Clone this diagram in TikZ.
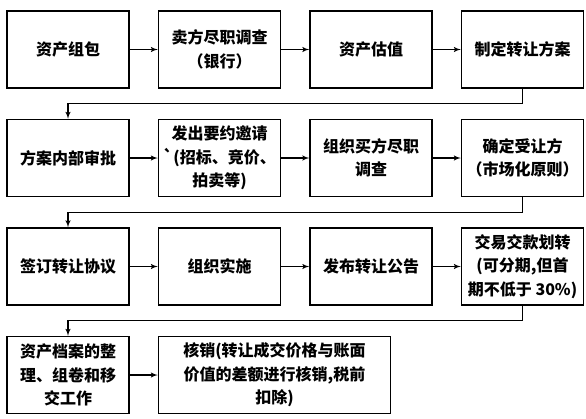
\documentclass[tikz,border=0pt]{standalone}
\usepackage{fontspec}
\newfontfamily\cjk{Noto Sans CJK SC}
\usepackage{tikz}
\usetikzlibrary{positioning,arrows}
\tikzset{
  basic/.style = {draw, line width=1.5pt, inner sep=0pt, align=center,
                  font=\cjk\bfseries\fontsize{16}{23.5}\selectfont},
  stage/.style = {basic, minimum width=122pt, minimum height=77pt},
  wide/.style  = {basic, minimum width=232pt, minimum height=77pt},
  post/.style  = {->, >=latex', line width=1.4pt}
}
\begin{document}
\begin{tikzpicture}[x=1pt,y=-1pt,node distance=28pt and 30pt]
  \useasboundingbox (0,0) rectangle (586,418);
  % row 1
  \node[stage] (pack) at (68,49.5) {资产组包};
  \node[stage, right=28pt of pack] (sellcheck) {卖方尽职调查\\（银行）};
  \node[stage, right=28pt of sellcheck] (value) {资产估值};
  \node[stage, right=28pt of value] (plan) {制定转让方案};
  % row 2
  \node[stage, below=30pt of pack] (approve) {方案内部审批};
  \node[stage, right=28pt of approve] (offer) {发出要约邀请\\`(招标、竞价、\\拍卖等)};
  \node[stage, right=28pt of offer] (buycheck) {组织买方尽职\\调查};
  \node[stage, right=28pt of buycheck] (buyer) {确定受让方\\（市场化原则）};
  % row 3
  \node[stage, below=30pt of approve] (sign) {签订转让协议};
  \node[stage, right=28pt of sign] (run) {组织实施};
  \node[stage, right=28pt of run] (notice) {发布转让公告};
  \node[stage, right=28pt of notice] (pay) {交易交款划转\\(可分期,但首\\期不低于 30\%)};
  % row 4
  \node[stage, below=30pt of sign] (archive) {资产档案的整\\理、组卷和移\\交工作};
  \node[wide, right=28pt of archive.north east, anchor=north west] (writeoff)
    {核销(转让成交价格与账面\\价值的差额进行核销,税前\\扣除)};

  \draw[post] (pack) -- (sellcheck);
  \draw[post] (sellcheck) -- (value);
  \draw[post] (value) -- (plan);
  \draw[post] (plan.south) -- ++(0,15) -| (approve.north);
  \draw[post] (approve) -- (offer);
  \draw[post] (offer) -- (buycheck);
  \draw[post] (buycheck) -- (buyer);
  \draw[post] (buyer.south) -- ++(0,15) -| (sign.north);
  \draw[post] (sign) -- (run);
  \draw[post] (run) -- (notice);
  \draw[post] (notice) -- (pay);
  \draw[post] (pay.south) -- ++(0,15) -| (archive.north);
  \draw[post] (archive) -- (writeoff.west |- archive);
\end{tikzpicture}
\end{document}
